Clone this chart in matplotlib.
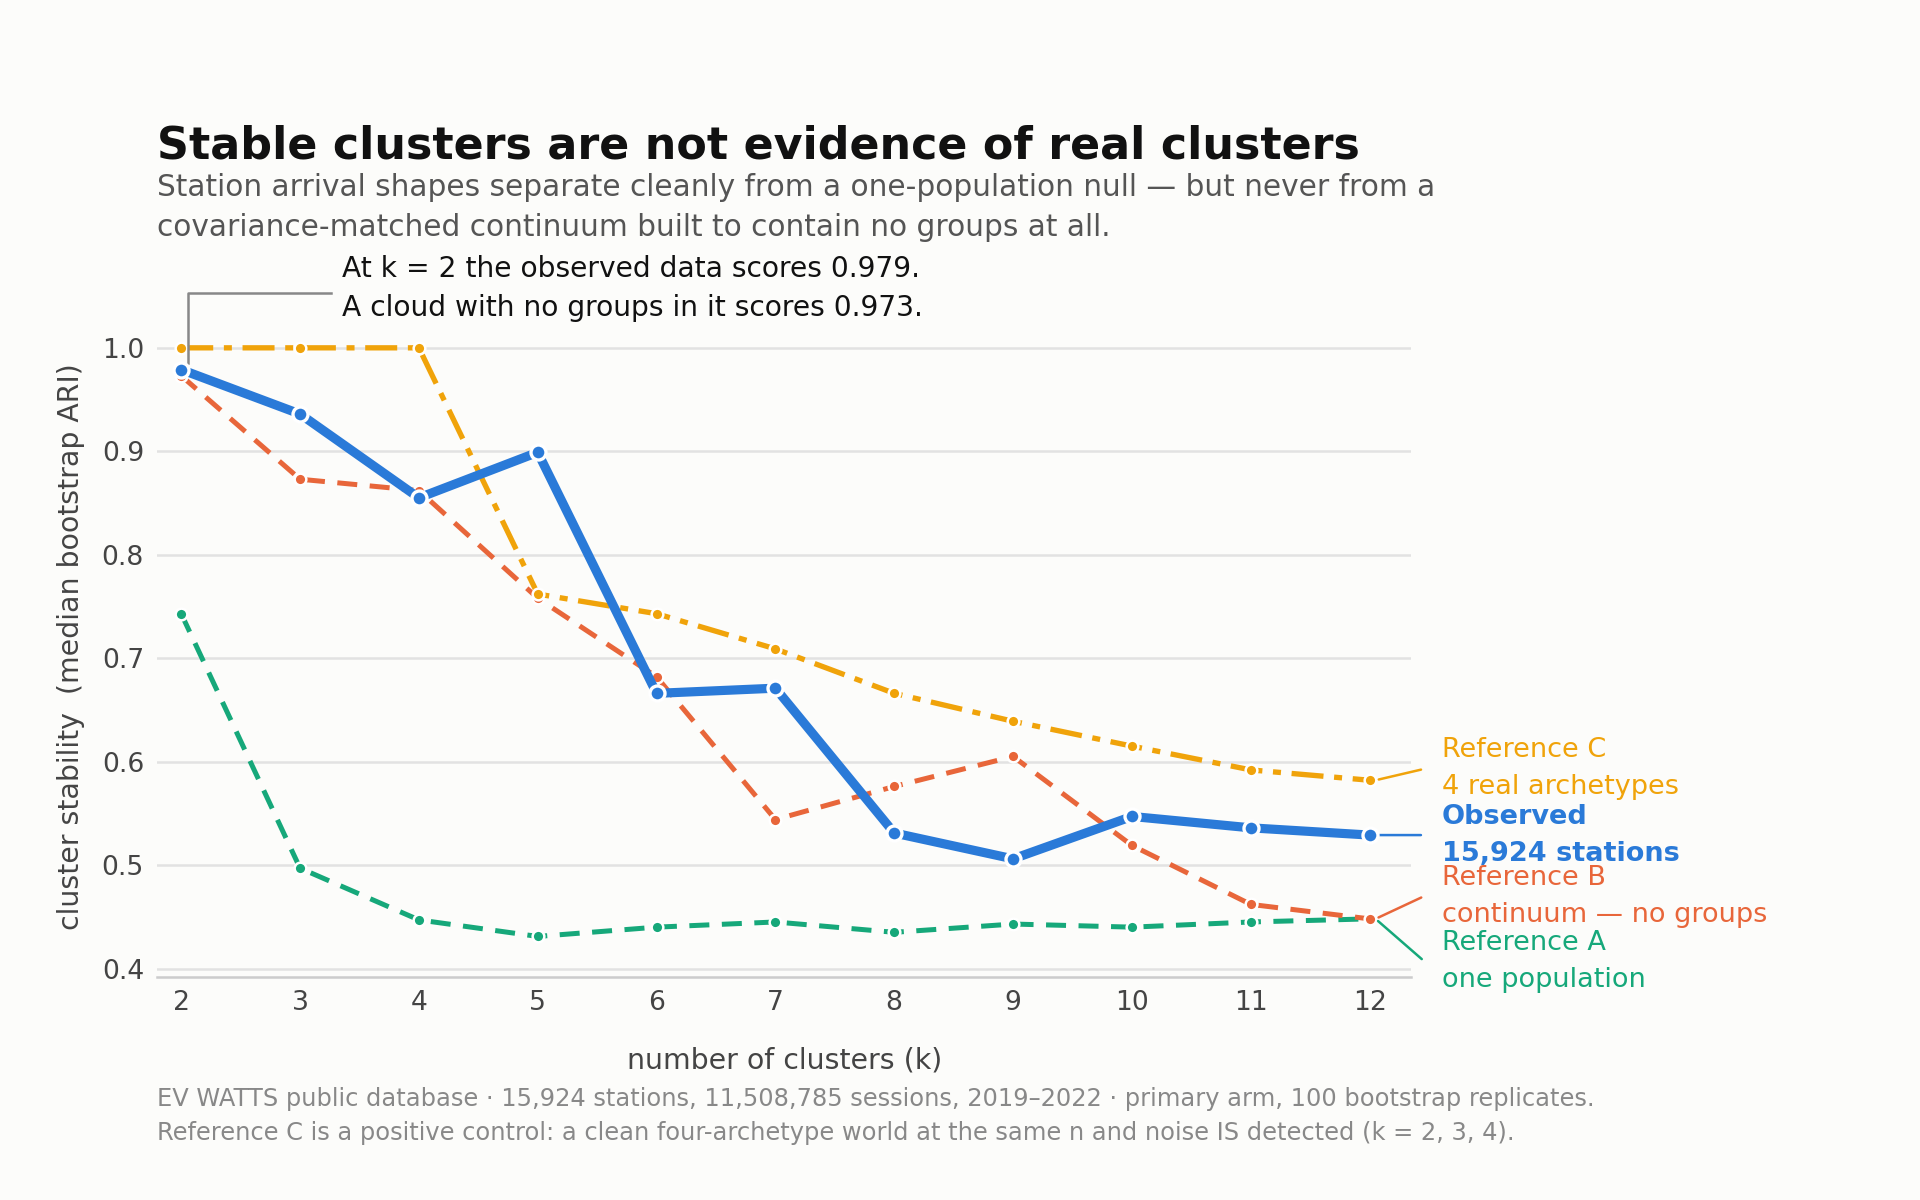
import matplotlib.pyplot as plt

k = [2, 3, 4, 5, 6, 7, 8, 9, 10, 11, 12]
observed = [0.979, 0.936, 0.855, 0.899, 0.666, 0.671, 0.531, 0.506, 0.547, 0.536, 0.529]
ref_c = [1.0, 1.0, 1.0, 0.762, 0.743, 0.709, 0.666, 0.639, 0.615, 0.592, 0.582]
ref_b = [0.973, 0.873, 0.862, 0.758, 0.682, 0.544, 0.576, 0.605, 0.519, 0.462, 0.448]
ref_a = [0.743, 0.497, 0.447, 0.431, 0.440, 0.445, 0.435, 0.443, 0.440, 0.445, 0.448]

BG = "#fcfcfa"
C_OBS, C_C, C_B, C_A = "#2a7ad8", "#f0a30a", "#e8663a", "#16a87a"

fig = plt.figure(figsize=(16, 10), dpi=120, facecolor=BG)
ax = fig.add_axes([0.082, 0.186, 0.653, 0.55], facecolor=BG)

ax.plot(k, ref_a, color=C_A, lw=3, ls=(0, (4, 2.5)), marker="o", ms=7, mec="white", mew=1.5)
ax.plot(k, ref_b, color=C_B, lw=3, ls=(0, (4, 2.5)), marker="o", ms=7, mec="white", mew=1.5)
ax.plot(k, ref_c, color=C_C, lw=3.2, ls=(0, (6, 2, 1.5, 2)), marker="o", ms=7, mec="white", mew=1.5)
ax.plot(k, observed, color=C_OBS, lw=5.5, marker="o", ms=9, mec="white", mew=2, zorder=5)

ax.set_xlim(1.8, 12.35)
ax.set_ylim(0.392, 1.03)
ax.set_xticks(k)
ax.set_yticks([0.4, 0.5, 0.6, 0.7, 0.8, 0.9, 1.0])
ax.grid(axis="y", color="#e2e2e2", lw=1.5)
ax.set_axisbelow(True)
for s in ["top", "right", "left"]:
    ax.spines[s].set_visible(False)
ax.spines["bottom"].set_color("#cccccc")
ax.spines["bottom"].set_linewidth(1.5)
ax.tick_params(length=0, labelsize=16, colors="#444444", pad=8)
ax.set_xlabel("number of clusters (k)", fontsize=17, color="#444444", labelpad=18)
ax.set_ylabel("cluster stability  (median bootstrap ARI)", fontsize=17, color="#444444", labelpad=10)

# right-hand labels
labels = [
    (ref_c[-1], 0.593, "Reference C\n4 real archetypes", C_C, "normal"),
    (observed[-1], 0.529, "Observed\n15,924 stations", C_OBS, "bold"),
    (ref_b[-1], 0.470, "Reference B\ncontinuum — no groups", C_B, "normal"),
    (ref_a[-1], 0.407, "Reference A\none population", C_A, "normal"),
]
for yv, yt, txt, col, fw in labels:
    ax.annotate("", xy=(12.05, yv), xytext=(12.46, yt), annotation_clip=False,
                arrowprops=dict(arrowstyle="-", color=col, lw=1.5))
    ax.text(12.61, yt, txt, color=col, fontsize=16.3, fontweight=fw, va="center",
            linespacing=1.55, clip_on=False)

# callout
ax.plot([2.06, 2.06, 3.26], [0.985, 1.053, 1.053], color="#888888", lw=1.5, clip_on=False)
ax.text(3.35, 1.057, "At k = 2 the observed data scores 0.979.\nA cloud with no groups in it scores 0.973.",
        fontsize=16.9, va="center", color="#111111", linespacing=1.5, clip_on=False)

fig.text(0.082, 0.878, "Stable clusters are not evidence of real clusters",
         fontsize=26.6, fontweight="bold", color="#111111", va="center")
fig.text(0.082, 0.827, "Station arrival shapes separate cleanly from a one-population null — but never from a\n"
         "covariance-matched continuum built to contain no groups at all.",
         fontsize=17.8, color="#555555", va="center", linespacing=1.45)
fig.text(0.082, 0.07, "EV WATTS public database · 15,924 stations, 11,508,785 sessions, 2019–2022 · primary arm, 100 bootstrap replicates.\n"
         "Reference C is a positive control: a clean four-archetype world at the same n and noise IS detected (k = 2, 3, 4).",
         fontsize=14.5, color="#888888", va="center", linespacing=1.5)

fig.savefig("out.png", facecolor=BG)
